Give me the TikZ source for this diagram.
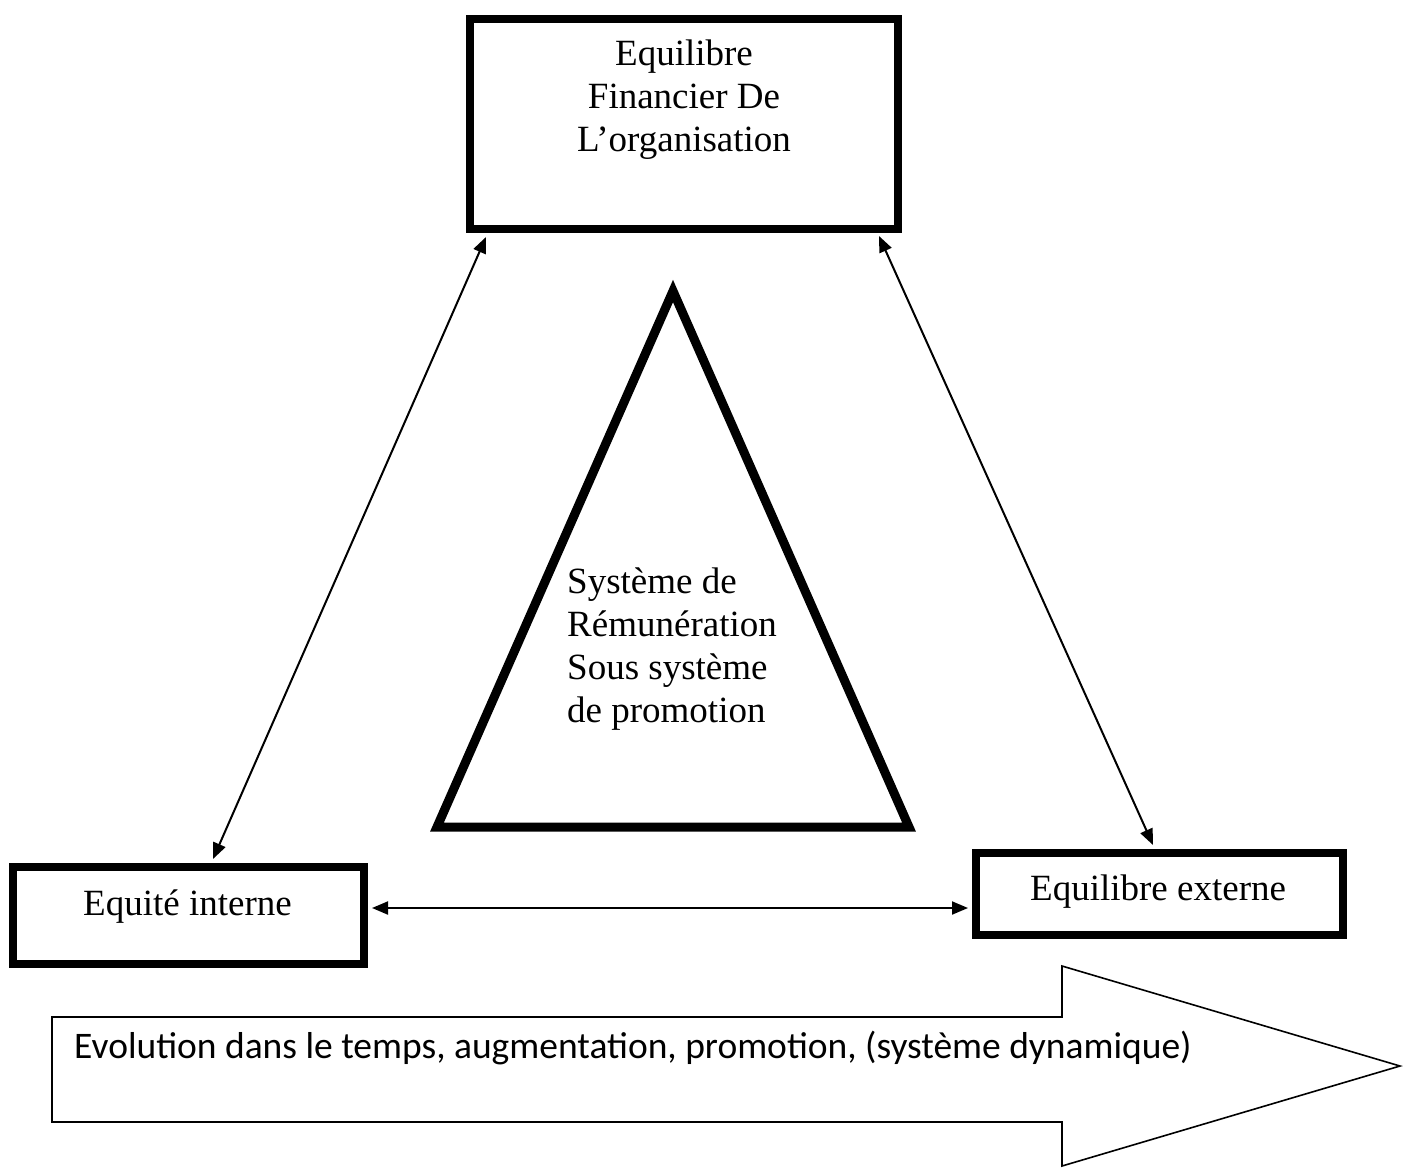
\documentclass[tikz,border=0pt]{standalone}
\usepackage{fontspec}
\setmainfont{Liberation Serif}
\newfontfamily\arrowfont{Carlito}
\usetikzlibrary{arrows.meta,calc}
\begin{document}
\begin{tikzpicture}[x=1pt,y=-1pt,
  thickbox/.style={draw=black, line width=8pt, inner sep=0pt, fill=white},
  lbl/.style={inner sep=0pt, font=\fontsize{37}{43}\selectfont},
  link/.style={line width=2pt,
    {Triangle[length=16pt,width=13pt]}-{Triangle[length=16pt,width=13pt]}}]
\useasboundingbox (0,0) rectangle (1403,1168);

% the three boxes
\node[thickbox, minimum width=428pt, minimum height=210pt] (fin) at (684,124) {};
\node[thickbox, minimum width=351pt, minimum height=97pt] (lft) at (188.5,915.5) {};
\node[thickbox, minimum width=367pt, minimum height=82pt] (rgt) at (1159.5,894) {};

% box texts (multi-line nodes are anchored on their last baseline)
\node[lbl, anchor=base, align=center] (fintxt) at (684,151)
  {Equilibre\\Financier De\\L’organisation};
\node[lbl, anchor=base west] (lfttxt) at (83,915) {Equité interne};
\node[lbl, anchor=base west] (rgttxt) at (1030,900) {Equilibre externe};

% central triangle
\draw[line width=9pt, line join=miter] (673,291) -- (909,827) -- (437,827) -- cycle;
\node[lbl, anchor=base west, align=left] (systxt) at (567,722)
  {Système de\\Rémunération\\Sous système\\de promotion};

% connectors between the boxes
\coordinate (f1) at ($(fin.south west)+(20,4)$);
\coordinate (f2) at ($(fin.south east)+(-23,3)$);
\coordinate (l1) at ($(lft.north west)+(204,-4)$);
\coordinate (r1) at ($(rgt.north west)+(181,-4)$);
\coordinate (l2) at ($(lft.north east)+(4,45)$);
\coordinate (r2) at ($(rgt.north west)+(-4,59)$);
\draw[link] (f1) -- (l1);
\draw[link] (f2) -- (r1);
\draw[link] (l2) -- (r2);

% evolution arrow
\draw[line width=1.6pt, line join=miter, fill=white]
  (52,1017) -- (1062,1017) -- (1062,966) -- (1400,1066)
  -- (1062,1166) -- (1062,1122) -- (52,1122) -- cycle;
\node[inner sep=0pt, anchor=base west, font=\arrowfont\fontsize{37.5}{45}\selectfont]
  (evotxt) at (74,1058)
  {Evolution dans le temps, augmentation, promotion, (système dynamique)};
\end{tikzpicture}
\end{document}
